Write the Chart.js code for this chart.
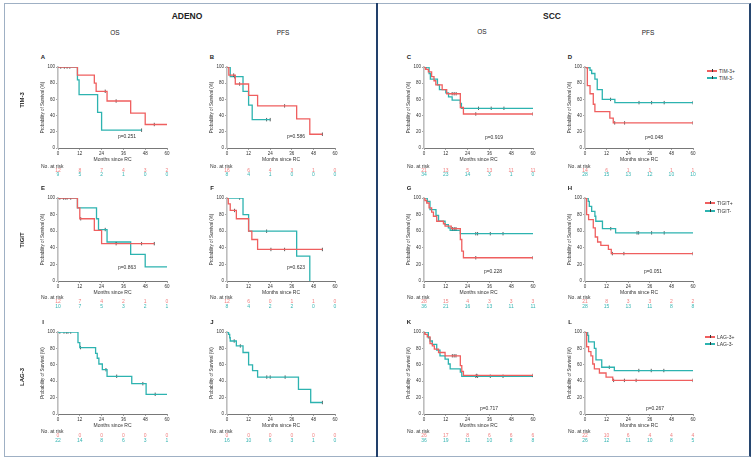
<!DOCTYPE html>
<html>
<head>
<meta charset="utf-8">
<script src="https://cdn.jsdelivr.net/npm/chart.js@4.4.1/dist/chart.umd.min.js"></script>
<style>
  body { margin: 0; width: 755px; height: 461px; position: relative; overflow: hidden; background: #fff;
         font-family: "Liberation Sans", Arial, sans-serif; }
  canvas { position: absolute; }
  .t { position: absolute; white-space: nowrap; line-height: 1; color: #222; transform: translate(-50%, -50%); }
  .frame { position: absolute; left: 4px; top: 3px; width: 744px; height: 452px;
           border: 1px solid #9fb0c4; border-right: 2px solid #27466f; }
  .divider { position: absolute; left: 376px; top: 3px; width: 2px; height: 454px; background: #22406b; }
</style>
</head>
<body>
<div class="frame"></div>
<div class="divider"></div>
<script>
const xTicks = [0, 12, 24, 36, 48, 60];
const yTicks = [0, 20, 40, 60, 80, 100];

// A - ADENO OS, TIM-3
const aPos = [[0,100],[10.7,90],[20,80],[21,70],[27,58],[40,43],[48,29],[60,29]];
const aPosCens = [1.5, 3.5, 5, 26, 32, 53];
const aNeg = [[0,100],[10.7,84],[11.6,66],[21.8,44],[24,22],[46,22]];
const aNegCens = [6.5, 46];
const aPosRisk = [12, 8, 7, 4, 3, 2];
const aNegRisk = [9, 5, 2, 1, 0, 0];

// B - ADENO PFS, TIM-3
const bPos = [[0,100],[1,90],[4.6,79],[12,65],[17,52],[38.7,36],[46,17],[53,17]];
const bPosCens = [3.7, 7, 32, 53];
const bNeg = [[0,100],[1.8,88],[8.9,70],[12,53],[14,35],[24,35]];
const bNegCens = [4.2, 22, 24];
const bPosRisk = [16, 6, 4, 3, 1, 0];
const bNegRisk = [8, 4, 1, 0, 0, 0];

// C - SCC OS, TIM-3
const cPos = [[0,100],[0.8,97],[2.4,94],[4.2,88],[5.5,83],[6.5,78],[10,72],[12.5,67],[20,50],[21.7,42],[60,42]];
const cPosCens = [15.5, 16.6, 17.7, 28.5, 60];
const cNeg = [[0,100],[2.8,92],[3.5,85],[7.4,78],[8.5,72],[12,68],[13.5,63],[15.5,59],[20,55],[20.6,49],[60,49]];
const cNegCens = [1.5, 30, 37, 44];
const cPosRisk = [21, 13, 5, 13, 11, 11];
const cNegRisk = [34, 23, 14, 3, 1, 0];

// D - SCC PFS, TIM-3
const dPos = [[0,100],[1.3,77],[2.8,67],[4.6,54],[5.5,45],[13.8,37],[15.7,31],[60,31]];
const dPosCens = [16.5, 22, 60];
const dNeg = [[0,100],[2.8,96],[3.7,92],[5.5,85],[6.8,72],[9.6,60],[16.6,56],[60,56]];
const dNegCens = [1.1, 2.2, 14.2, 30, 37, 44, 60];
const dPosRisk = [14, 6, 1, 1, 1, 1];
const dNegRisk = [28, 15, 13, 12, 10, 10];

// E - ADENO OS, TIGIT
const ePos = [[0,100],[10.7,88],[12,75],[20,61],[24,45],[53,45]];
const ePosCens = [1, 3, 4, 5, 7, 12.5, 32, 46, 53];
const eNeg = [[0,100],[10.7,88],[21.2,75],[22.3,62],[27,47],[40,32],[48,17],[60,17]];
const eNegCens = [26];
const ePosRisk = [12, 7, 4, 2, 1, 0];
const eNegRisk = [10, 7, 5, 3, 2, 1];

// F - ADENO PFS, TIGIT
const fPos = [[0,100],[0.7,93],[1.8,85],[5.2,75],[12,60],[13.8,50],[17,38],[53,38]];
const fPosCens = [4.2, 24.4, 32, 53];
const fNeg = [[0,100],[8.9,80],[12,60],[38.7,30],[46,0]];
const fNegCens = [7, 22];
const fPosRisk = [12, 6, 0, 1, 1, 0];
const fNegRisk = [8, 4, 2, 2, 0, 0];

// G - SCC OS, TIGIT
const gPos = [[0,100],[0.5,97],[1.5,94],[2.8,88],[4.2,83],[5.2,78],[7,72],[10.7,69],[11.6,66],[15,63],[20,50],[20.8,36],[21.7,28],[60,28]];
const gPosCens = [15.6, 16.6, 17.6, 28.5, 60];
const gNeg = [[0,100],[1.8,96],[3.3,86],[6.6,79],[8,72],[11.6,68],[13.4,64],[14.4,61],[20,57],[60,57]];
const gNegCens = [28.5, 29.5, 36.5, 43.5];
const gPosRisk = [28, 15, 4, 3, 3, 3];
const gNegRisk = [36, 21, 16, 13, 11, 11];

// H - SCC PFS, TIGIT
const hPos = [[0,100],[0.9,80],[2,74],[4.6,64],[5.7,53],[7,47],[8.8,43],[13,38],[14.6,33],[60,33]];
const hPosCens = [15.2, 21.6, 60];
const hNeg = [[0,100],[1.8,96],[2.4,90],[3.7,84],[5.5,78],[6,72],[9.7,63],[17,58],[60,58]];
const hNegCens = [14.3, 28.9, 29.8, 37, 44];
const hPosRisk = [21, 8, 3, 3, 2, 2];
const hNegRisk = [28, 15, 13, 11, 8, 8];

// I - ADENO OS, LAG-3 (no LAG-3+ cases)
const iPos = [];
const iPosCens = [];
const iNeg = [[0,100],[11,87],[12,81],[20.7,74],[21.6,68],[22.5,61],[24.4,54],[27,46],[40.6,37],[48.5,24],[60,24]];
const iNegCens = [1, 3.3, 4.6, 5.5, 7, 12.4, 26.4, 32.3, 46.7, 53.5];
const iPosRisk = [0, 0, 0, 0, 0, 0];
const iNegRisk = [22, 14, 8, 6, 3, 1];

// J - ADENO PFS, LAG-3
const jPos = [];
const jPosCens = [];
const jNeg = [[0,100],[0.9,97],[1.5,93],[1.8,89],[5.2,83],[8.9,75],[12,60],[14.2,53],[17,45],[39.7,30],[46.5,14],[53,14]];
const jNegCens = [4, 7.4, 22.1, 24, 32.3, 53];
const jPosRisk = [0, 0, 0, 0, 0, 0];
const jNegRisk = [16, 10, 6, 3, 1, 0];

// K - SCC OS, LAG-3
const kPos = [[0,100],[0.5,97],[1.8,94],[3.3,86],[4.6,83],[5.7,79],[8,75],[11.6,71],[20,59],[20.8,52],[21.7,47],[60,47]];
const kPosCens = [15.6, 16.6, 17.6, 29, 60];
const kNeg = [[0,100],[2.4,93],[3.3,89],[4.6,85],[7,78],[8.8,71],[11.6,67],[13.4,61],[14.4,55],[20,51],[20.8,46],[60,46]];
const kNegCens = [0.5, 28.5, 29.5, 36.5, 43.5];
const kPosRisk = [26, 17, 8, 6, 6, 6];
const kNegRisk = [36, 19, 11, 10, 8, 8];

// L - SCC PFS, LAG-3
const lPos = [[0,100],[0.9,82],[2,76],[3.3,71],[4.3,61],[5.2,55],[8,50],[11.7,45],[15.4,41],[60,41]];
const lPosCens = [15.9, 21.9, 28.4, 60];
const lNeg = [[0,100],[1.5,96],[2,88],[5.2,80],[6.1,66],[9.3,57],[16.3,53],[60,53]];
const lNegCens = [13.5, 29.9, 36.8, 43.8];
const lPosRisk = [22, 10, 6, 4, 4, 4];
const lNegRisk = [26, 12, 11, 10, 8, 5];

const red = '#ef5f5f';
const teal = '#2db3b0';
const redText = '#f07f7f';
const tealText = '#38b5b3';
const FONT = '"Liberation Sans", Arial, sans-serif';

// plot areas and text spots per panel
const rows = [
  { top: 67, h: 81, risk: 165.5 },
  { top: 198, h: 83, risk: 297 },
  { top: 332, h: 82, risk: 431 }
];
const cols = [{ x: 58, w: 109 }, { x: 227, w: 108 }, { x: 424, w: 109 }, { x: 585, w: 108 }];

const panels = [
  { id: 'A', r: 0, c: 0, pos: aPos, posC: aPosCens, neg: aNeg, negC: aNegCens, rp: aPosRisk, rn: aNegRisk, p: 'p=0.251', px: 127, py: 136 },
  { id: 'B', r: 0, c: 1, pos: bPos, posC: bPosCens, neg: bNeg, negC: bNegCens, rp: bPosRisk, rn: bNegRisk, p: 'p=0.586', px: 296, py: 136 },
  { id: 'C', r: 0, c: 2, pos: cPos, posC: cPosCens, neg: cNeg, negC: cNegCens, rp: cPosRisk, rn: cNegRisk, p: 'p=0.919', px: 494, py: 137 },
  { id: 'D', r: 0, c: 3, pos: dPos, posC: dPosCens, neg: dNeg, negC: dNegCens, rp: dPosRisk, rn: dNegRisk, p: 'p=0.048', px: 654, py: 137 },
  { id: 'E', r: 1, c: 0, pos: ePos, posC: ePosCens, neg: eNeg, negC: eNegCens, rp: ePosRisk, rn: eNegRisk, p: 'p=0.863', px: 127, py: 267 },
  { id: 'F', r: 1, c: 1, pos: fPos, posC: fPosCens, neg: fNeg, negC: fNegCens, rp: fPosRisk, rn: fNegRisk, p: 'p=0.623', px: 296, py: 267 },
  { id: 'G', r: 1, c: 2, pos: gPos, posC: gPosCens, neg: gNeg, negC: gNegCens, rp: gPosRisk, rn: gNegRisk, p: 'p=0.228', px: 493, py: 271 },
  { id: 'H', r: 1, c: 3, pos: hPos, posC: hPosCens, neg: hNeg, negC: hNegCens, rp: hPosRisk, rn: hNegRisk, p: 'p=0.051', px: 653, py: 271 },
  { id: 'I', r: 2, c: 0, pos: iPos, posC: iPosCens, neg: iNeg, negC: iNegCens, rp: iPosRisk, rn: iNegRisk, p: '', px: 0, py: 0 },
  { id: 'J', r: 2, c: 1, pos: jPos, posC: jPosCens, neg: jNeg, negC: jNegCens, rp: jPosRisk, rn: jNegRisk, p: '', px: 0, py: 0 },
  { id: 'K', r: 2, c: 2, pos: kPos, posC: kPosCens, neg: kNeg, negC: kNegCens, rp: kPosRisk, rn: kNegRisk, p: 'p=0.717', px: 489, py: 408 },
  { id: 'L', r: 2, c: 3, pos: lPos, posC: lPosCens, neg: lNeg, negC: lNegCens, rp: lPosRisk, rn: lNegRisk, p: 'p=0.267', px: 655, py: 408 }
];

function label(txt, x, y, css) {
  const d = document.createElement('div');
  d.className = 't';
  d.textContent = txt;
  d.style.left = x + 'px';
  d.style.top = y + 'px';
  Object.assign(d.style, css || {});
  document.body.appendChild(d);
  return d;
}

function stepAt(curve, t) {
  let y = curve[0][1];
  for (const [x, v] of curve) if (x <= t) y = v;
  return y;
}

const tickFont = { size: 4.5, family: FONT };

function makeChart(p) {
  const row = rows[p.r], col = cols[p.c];
  const cv = document.createElement('canvas');
  cv.width = col.w + 26;
  cv.height = row.h + 20;
  cv.style.left = (col.x - 20) + 'px';
  cv.style.top = (row.top - 5) + 'px';
  document.body.appendChild(cv);

  const sets = [];
  [[p.pos, p.posC, red], [p.neg, p.negC, teal]].forEach(([curve, cens, color]) => {
    if (!curve.length) return;
    sets.push({
      data: curve.map(([x, y]) => ({ x, y })),
      borderColor: color, borderWidth: 1.3, stepped: true, pointRadius: 0, fill: false
    });
    sets.push({
      data: cens.map(t => ({ x: t, y: stepAt(curve, t) })),
      showLine: false, pointStyle: 'line', pointRotation: 90, pointRadius: 1.7,
      pointBorderColor: '#333', pointBorderWidth: 0.8
    });
  });

  const chart = new Chart(cv, {
    type: 'line',
    data: { datasets: sets },
    options: {
      responsive: false,
      animation: false,
      events: [],
      layout: { padding: { top: 5, right: 6, left: 0, bottom: 0 } },
      plugins: { legend: { display: false }, tooltip: { enabled: false } },
      scales: {
        x: {
          type: 'linear', min: 0, max: 60,
          afterBuildTicks: s => { s.ticks = xTicks.map(v => ({ value: v })); },
          afterFit: s => { s.height = 15; },
          grid: { display: true, drawOnChartArea: false, drawTicks: true, tickLength: 2, color: '#666', lineWidth: 0.6 },
          border: { display: true, color: '#555', width: 0.8 },
          ticks: { font: tickFont, color: '#333', padding: 1, maxRotation: 0, autoSkip: false },
          title: { display: true, text: 'Months since RC', font: { size: 5, family: FONT }, color: '#333', padding: { top: 0, bottom: 0 } }
        },
        y: {
          type: 'linear', min: 0, max: 100,
          afterBuildTicks: s => { s.ticks = yTicks.map(v => ({ value: v })); },
          afterFit: s => { s.width = 20; },
          grid: { display: true, drawOnChartArea: false, drawTicks: true, tickLength: 2, color: '#666', lineWidth: 0.6 },
          border: { display: true, color: '#bdbdbd', width: 1.6 },
          ticks: { font: tickFont, color: '#333', padding: 1 },
          title: { display: true, text: 'Probability of Survival (%)', font: { size: 4.5, family: FONT }, color: '#333', padding: { top: 2, bottom: 0 } }
        }
      }
    }
  });

  // number at risk, placed on the chart's own x scale
  const xs = chart.scales.x;
  const left = col.x - 20;
  label('No. at risk', col.x - 17, row.risk, { transform: 'translate(0,-50%)', fontSize: '5px', color: '#333' });
  xTicks.forEach((t, i) => {
    const px = left + xs.getPixelForValue(t);
    label(String(p.rp[i]), px, row.risk + 4, { fontSize: '5px', color: redText });
    label(String(p.rn[i]), px, row.risk + 8.5, { fontSize: '5px', color: tealText });
  });

  label(p.id, col.x - 15, row.top - 10, { fontSize: '6px', fontWeight: 'bold' });
  if (p.p) label(p.p, p.px, p.py, { fontSize: '5px', color: '#333' });
}

panels.forEach(makeChart);

// headers
label('ADENO', 187, 16, { fontSize: '8.5px', fontWeight: 'bold' });
label('SCC', 552, 16, { fontSize: '8.5px', fontWeight: 'bold' });
label('OS', 115, 33, { fontSize: '6.5px' });
label('PFS', 283, 33, { fontSize: '6.5px' });
label('OS', 482, 32, { fontSize: '6.5px' });
label('PFS', 648, 33, { fontSize: '6.5px' });

// row labels
[['TIM-3', 100], ['TIGIT', 240], ['LAG-3', 377]].forEach(([txt, y]) => {
  label(txt, 22, y, { fontSize: '6px', fontWeight: 'bold', transform: 'translate(-50%,-50%) rotate(-90deg)' });
});

// legends
function legendItem(txt, color, x, y) {
  const line = document.createElement('div');
  Object.assign(line.style, { position: 'absolute', left: x + 'px', top: (y - 0.6) + 'px', width: '10px', height: '1.2px', background: color });
  document.body.appendChild(line);
  const tick = document.createElement('div');
  Object.assign(tick.style, { position: 'absolute', left: (x + 4.6) + 'px', top: (y - 2) + 'px', width: '0.8px', height: '3.4px', background: '#333' });
  document.body.appendChild(tick);
  label(txt, x + 12, y, { transform: 'translate(0,-50%)', fontSize: '5px', color: '#333' });
}
legendItem('TIM-3+', red, 707, 71);
legendItem('TIM-3-', teal, 707, 78);
legendItem('TIGIT+', red, 705, 203);
legendItem('TIGIT-', teal, 705, 211);
legendItem('LAG-3+', red, 705, 337);
legendItem('LAG-3-', teal, 705, 344);
</script>
</body>
</html>
